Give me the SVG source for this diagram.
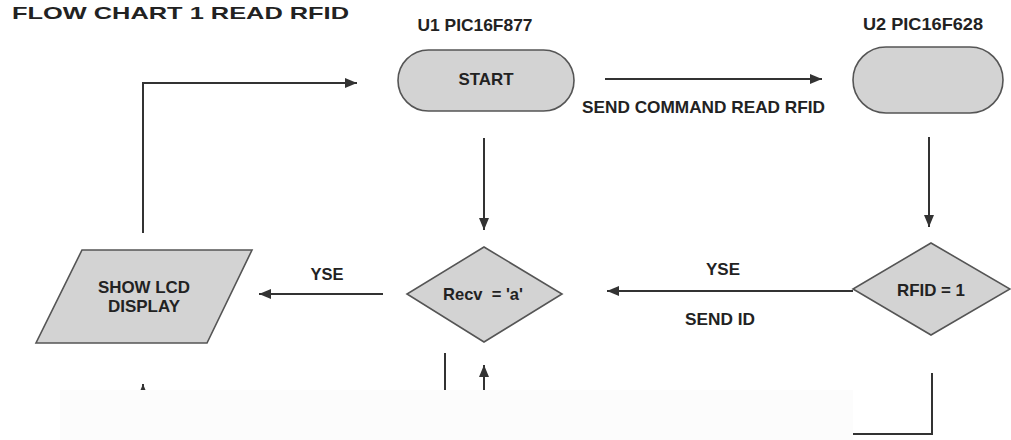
<svg xmlns="http://www.w3.org/2000/svg" width="1011" height="440" viewBox="0 0 1011 440">
<style>
.shape{fill:#d3d3d3;stroke:#555;stroke-width:1.6}
.conn{fill:none;stroke:#333;stroke-width:2}
text{font-family:"Liberation Sans",Arial,sans-serif;font-weight:bold;fill:#222;font-size:17px}
.c{text-anchor:middle}
</style>
<defs>
<marker id="arr" markerUnits="userSpaceOnUse" markerWidth="14" markerHeight="12" refX="12" refY="5" orient="auto">
<path d="M0,0 L12,5 L0,10 Z" fill="#333"/>
</marker>
</defs>
<text x="12" y="19" font-size="24" textLength="337" lengthAdjust="spacingAndGlyphs">FLOW CHART 1 READ RFID</text>
<g id="start">
<text class="c" x="475" y="31" textLength="115" lengthAdjust="spacingAndGlyphs">U1 PIC16F877</text>
<rect class="shape" x="398" y="50" width="176" height="61" rx="30.5"/>
<text class="c" x="486" y="85" font-size="18" textLength="55" lengthAdjust="spacingAndGlyphs">START</text>
</g>
<g id="u2">
<text class="c" x="923" y="30" textLength="120" lengthAdjust="spacingAndGlyphs">U2 PIC16F628</text>
<rect class="shape" x="853" y="47" width="150" height="66" rx="33"/>
</g>
<g id="recv">
<polygon class="shape" points="484,247 562,294 484,342 407,294"/>
<text class="c" x="483" y="300" textLength="80" lengthAdjust="spacingAndGlyphs">Recv&#160; = 'a'</text>
</g>
<g id="rfid">
<polygon class="shape" points="931,243 1010,289 931,335 853,289"/>
<text class="c" x="931" y="296" textLength="68" lengthAdjust="spacingAndGlyphs">RFID = 1</text>
</g>
<g id="lcd">
<polygon class="shape" points="82,250 252,250 207,343 36,343"/>
<text class="c" x="144" y="293" textLength="92" lengthAdjust="spacingAndGlyphs">SHOW LCD</text>
<text class="c" x="144" y="312" textLength="72" lengthAdjust="spacingAndGlyphs">DISPLAY</text>
</g>
<g id="connectors">
<path class="conn" d="M605,79 H822" marker-end="url(#arr)"/>
<path class="conn" d="M143,233 V83 H357" marker-end="url(#arr)"/>
<path class="conn" d="M484,138 V230" marker-end="url(#arr)"/>
<path class="conn" d="M929,137 V227" marker-end="url(#arr)"/>
<path class="conn" d="M853,291 H607" marker-end="url(#arr)"/>
<path class="conn" d="M383,294 H259" marker-end="url(#arr)"/>
<path class="conn" d="M143,400 V384" marker-end="url(#arr)"/>
<path class="conn" d="M445,353 V392"/>
<path class="conn" d="M484,400 V365" marker-end="url(#arr)"/>
<path class="conn" d="M932,373 V434 H853"/>
<text x="582" y="113" textLength="243" lengthAdjust="spacingAndGlyphs">SEND COMMAND READ RFID</text>
<text class="c" x="723" y="275" textLength="34" lengthAdjust="spacingAndGlyphs">YSE</text>
<text class="c" x="720" y="325" textLength="70" lengthAdjust="spacingAndGlyphs">SEND ID</text>
<text class="c" x="327" y="280" textLength="33" lengthAdjust="spacingAndGlyphs">YSE</text>
</g>
<rect x="60" y="390" width="793" height="50" fill="#fcfcfc"/>
</svg>
